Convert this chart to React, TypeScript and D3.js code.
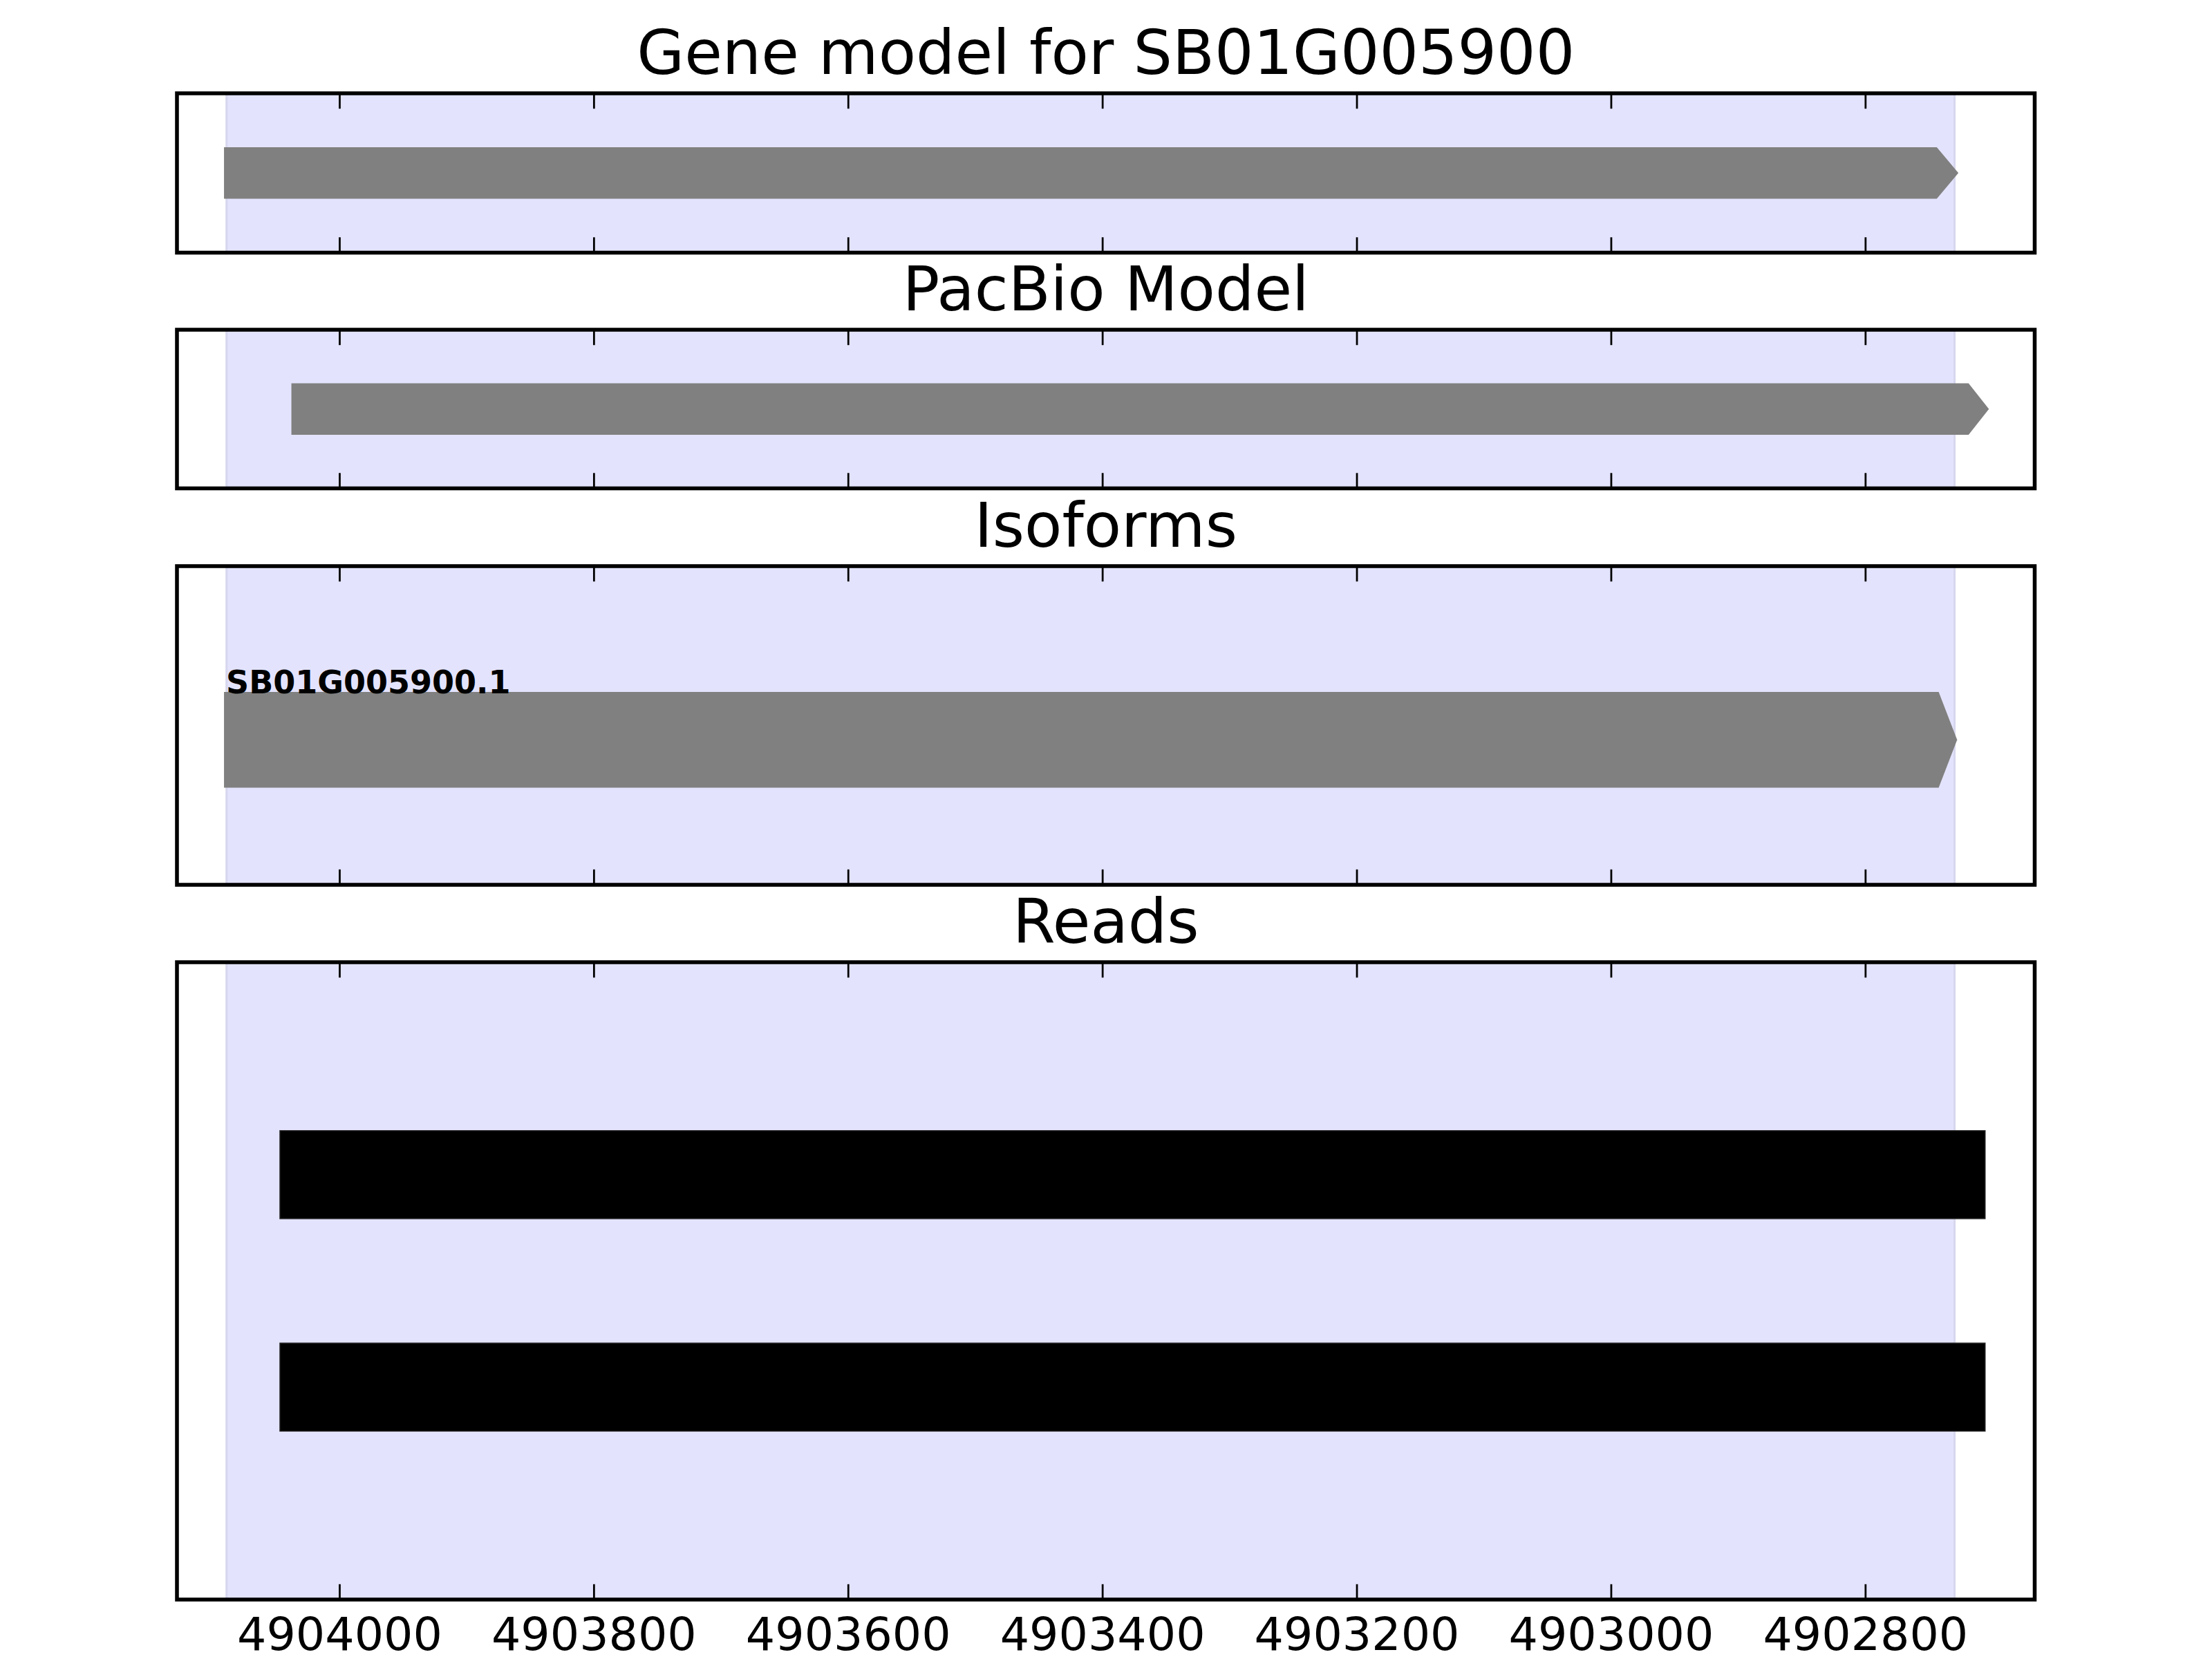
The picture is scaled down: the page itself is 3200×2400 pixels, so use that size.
import React from "react";
import * as d3 from "d3";

// ---- data ----
const tickValues = [4904000, 4903800, 4903600, 4903400, 4903200, 4903000, 4902800];
const xDomain = [4904128, 4902667];
const panelTitles = ["Gene model for SB01G005900", "PacBio Model", "Isoforms", "Reads"];
const highlightRange = [4904089, 4902730];
const geneModel = [{ name: "SB01G005900", start: 4904091, end: 4902727, y: 0.5 }];
const pacbioModel = [{ start: 4904038, end: 4902703, y: 0.5 }];
const isoforms = [{ name: "SB01G005900.1", start: 4904091, end: 4902728, y: 0.455 }];
const reads = [
  { start: 4904047, end: 4902706, y: 2 },
  { start: 4904047, end: 4902706, y: 1 },
];

// ---- layout / style ----
const W = 3200;
const H = 2400;
const axLeft = 256;
const axRight = 2943.5;
const panels = [
  { top: 135, bottom: 365.5, yDomain: [0, 1], barH: 0.323, head: 17, fill: "#808080", arrow: true },
  { top: 477, bottom: 706.5, yDomain: [0, 1], barH: 0.325, head: 16, fill: "#808080", arrow: true },
  { top: 819, bottom: 1280, yDomain: [0, 1], barH: 0.3, head: 14.5, fill: "#808080", arrow: true },
  { top: 1392, bottom: 2314, yDomain: [0, 3], barH: 0.414, head: 0, fill: "#000000", arrow: false },
];
const featureSets = [geneModel, pacbioModel, isoforms, reads];

const PT = 400 / 72;
const FONT = "'DejaVu Sans', sans-serif";

export default function App() {
  const x = d3.scaleLinear().domain(xDomain).range([axLeft, axRight]);
  const cx = (axLeft + axRight) / 2;

  return (
    <svg
      width={W}
      height={H}
      viewBox={`0 0 ${W} ${H}`}
      style={{ position: "absolute", left: 0, top: 0, background: "#fff" }}
    >
      <rect x={0} y={0} width={W} height={H} fill="#fff" />
      {panels.map((p, i) => {
        const y = d3.scaleLinear().domain(p.yDomain).range([p.bottom, p.top]);
        const feats = featureSets[i];
        const hx0 = x(highlightRange[0]);
        const hx1 = x(highlightRange[1]);
        return (
          <g key={i}>
            <defs>
              <clipPath id={`clip${i}`}>
                <rect x={axLeft} y={p.top} width={axRight - axLeft} height={p.bottom - p.top} />
              </clipPath>
            </defs>
            <g clipPath={`url(#clip${i})`}>
              <rect
                x={hx0}
                y={p.top}
                width={hx1 - hx0}
                height={p.bottom - p.top}
                fill="#e3e3fd"
              />
              <line x1={hx0} x2={hx0} y1={p.top} y2={p.bottom} stroke="#d6d6ee" strokeWidth={3} />
              <line x1={hx1} x2={hx1} y1={p.top} y2={p.bottom} stroke="#d6d6ee" strokeWidth={3} />
              {feats.map((f, j) => {
                const yc = y(f.y);
                const half = Math.abs(y(f.y + p.barH / 2) - yc);
                const xs = x(f.start);
                const xe = x(f.end);
                if (p.arrow) {
                  const xh = x(f.end + p.head);
                  const pts = [
                    [xs, yc - half],
                    [xh, yc - half],
                    [xe, yc],
                    [xh, yc + half],
                    [xs, yc + half],
                  ];
                  return (
                    <polygon
                      key={j}
                      points={pts.map((q) => q.join(",")).join(" ")}
                      fill={p.fill}
                    />
                  );
                }
                return (
                  <rect
                    key={j}
                    x={xs}
                    y={yc - half}
                    width={xe - xs}
                    height={2 * half}
                    fill={p.fill}
                    stroke="#222"
                    strokeWidth={1.5}
                  />
                );
              })}
              {i === 2 &&
                isoforms.map((f, j) => (
                  <text
                    key={`l${j}`}
                    x={x(f.start) + 3}
                    y={y(f.y + p.barH / 2) + 2}
                    fontFamily={FONT}
                    fontWeight="bold"
                    fontSize={46}
                    fill="#000"
                  >
                    {f.name}
                  </text>
                ))}
            </g>
            {/* ticks: inward, top and bottom */}
            {tickValues.map((t) => (
              <g key={t}>
                <line
                  x1={x(t)}
                  x2={x(t)}
                  y1={p.top}
                  y2={p.top + 4 * PT}
                  stroke="#000"
                  strokeWidth={0.5 * PT}
                />
                <line
                  x1={x(t)}
                  x2={x(t)}
                  y1={p.bottom}
                  y2={p.bottom - 4 * PT}
                  stroke="#000"
                  strokeWidth={0.5 * PT}
                />
              </g>
            ))}
            <rect
              x={axLeft}
              y={p.top}
              width={axRight - axLeft}
              height={p.bottom - p.top}
              fill="none"
              stroke="#000"
              strokeWidth={1 * PT}
            />
            <text
              x={cx}
              y={p.top - 5 * PT}
              textAnchor="middle"
              fontFamily={FONT}
              fontSize={16 * PT}
              fill="#000"
            >
              {panelTitles[i]}
            </text>
            {i === panels.length - 1 &&
              tickValues.map((t) => (
                <text
                  key={`tl${t}`}
                  x={x(t)}
                  y={p.bottom + 73}
                  textAnchor="middle"
                  fontFamily={FONT}
                  fontSize={12 * PT}
                  fill="#000"
                >
                  {t}
                </text>
              ))}
          </g>
        );
      })}
    </svg>
  );
}
